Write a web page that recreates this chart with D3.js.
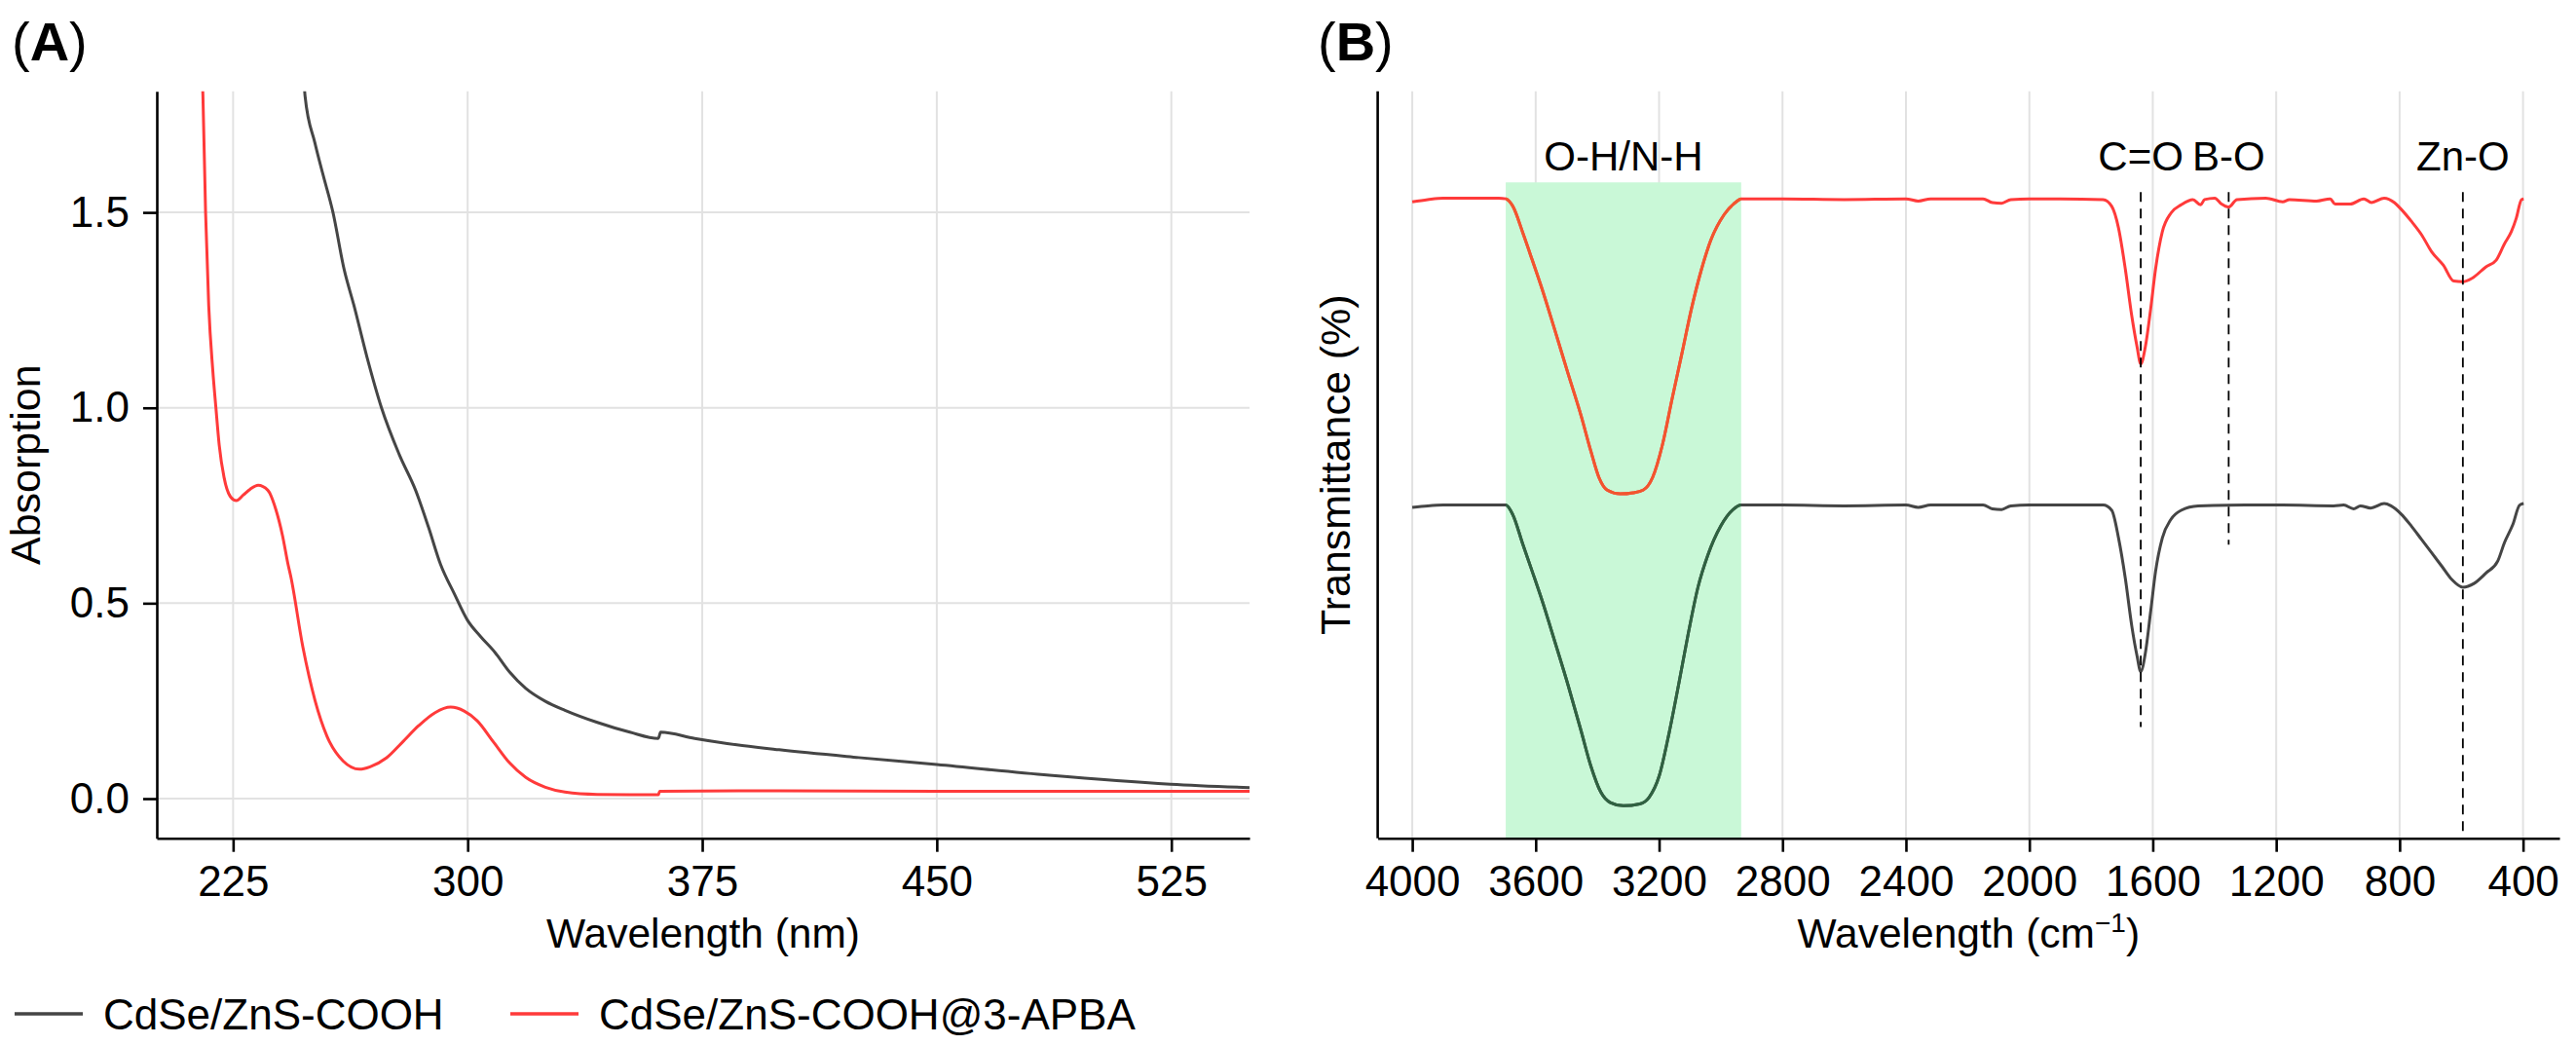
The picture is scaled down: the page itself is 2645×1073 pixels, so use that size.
<!DOCTYPE html>
<html>
<head>
<meta charset="utf-8">
<script src="https://cdn.jsdelivr.net/npm/d3@7"></script>
<style>
  html,body{margin:0;padding:0;background:#fff;}
  svg{display:block;}
  text{font-family:"Liberation Sans", Arial, Helvetica, sans-serif;}
</style>
</head>
<body>
<svg id="chart" width="2645" height="1073"></svg>
<script>
// ---------------- DATA ----------------
const seriesNames = ["CdSe/ZnS-COOH", "CdSe/ZnS-COOH@3-APBA"];
const seriesColors = ["#454545", "#FF3A3A"];
const seriesColorsInBand = ["#2F6241", "#F2552E"];

// Panel A: UV-vis absorption [wavelength nm, absorbance]
const uvXTicks = [225, 300, 375, 450, 525];
const uvYTicks = [0.0, 0.5, 1.0, 1.5];
const uvCOOH = [
  [247.5,1.86],[248.0,1.798],[251.15,1.678],[253.8,1.595],[256.9,1.501],[260.5,1.354],
  [263.6,1.263],[267.8,1.130],[272.45,1.0],[278.15,0.880],[283.35,0.789],[287.5,0.694],
  [291.3,0.600],[295.8,0.523],[299.9,0.457],[304.1,0.415],[308.75,0.374],[313.4,0.324],
  [318.6,0.282],[324.85,0.249],[331.1,0.226],[341.45,0.195],[351.85,0.170],[360.96,0.154],
  [361.7,0.170],[372.6,0.154],[383.0,0.141],[399.6,0.125],[425,0.105],[450,0.0872],
  [486,0.0598],[524.7,0.037],[550,0.028]
];
const uvAPBA = [
  [214.6,1.95],[215.35,1.798],[216.2,1.5],[217.2,1.262],[218.5,1.096],[219.5,1.0],
  [220.55,0.905],[222.1,0.822],[224.2,0.772],[226.05,0.7625],[228.3,0.777],[230.5,0.792],
  [233.0,0.8017],[236.1,0.789],[238.7,0.739],[240.8,0.673],[242.6,0.598],[243.4,0.570],
  [247.3,0.388],[251.2,0.251],[255.0,0.160],[260.2,0.096],[265.4,0.0753],[268.8,0.0815],
  [274.0,0.104],[279.2,0.145],[284.4,0.187],[289.6,0.220],[294.55,0.234],[298.9,0.224],
  [303.05,0.199],[308.25,0.145],[313.4,0.0914],[318.6,0.054],[324.85,0.029],[331.1,0.0167],
  [341.4,0.0107],[351.8,0.010],[361.0,0.010],[361.4,0.019],[400,0.020],[450,0.019],
  [500,0.019],[550,0.019]
];

// Panel B: FTIR transmittance [wavenumber cm-1, transmittance a.u.]
const ftirXTicks = [4000, 3600, 3200, 2800, 2400, 2000, 1600, 1200, 800, 400];
const ftirCOOH = [
  [4000,44.3],[3950,44.5],[3900,44.6],[3800,44.6],[3720,44.6],[3697,44.6],[3674,43.3],
  [3642,39.4],[3611,35.7],[3579,31.8],[3537,26.2],[3495,20.5],[3453,14.4],[3421,9.65],
  [3389,6.18],[3358,4.78],[3316,4.35],[3263,4.6],[3232,5.5],[3200,8.3],[3168,14.0],
  [3137,20.5],[3105,27.5],[3074,33.6],[3042,37.9],[3000,41.8],[2960,44.0],[2934,44.6],
  [2800,44.6],[2600,44.5],[2400,44.6],[2360,44.3],[2320,44.6],[2150,44.6],[2120,44.1],
  [2090,44.0],[2060,44.5],[2000,44.6],[1900,44.6],[1761,44.6],[1733,43.9],[1711,40.2],
  [1689,34.8],[1668,28.4],[1651,24.4],[1639,22.3],[1624,24.8],[1607,30.3],[1591,35.7],
  [1569,40.2],[1541,42.7],[1508,43.9],[1453,44.5],[1300,44.6],[1179,44.6],[1014,44.5],
  [981,44.6],[949,44.1],[927,44.5],[894,44.2],[850,44.8],[828,44.5],[795,43.4],[762,41.8],
  [729,40.0],[696,38.2],[663,36.4],[630,34.6],[595,33.6],[559,34.1],[520,35.5],[482,37.1],
  [460,39.6],[433,42.0],[411,44.6],[398,44.8]
];
const ftirAPBA = [
  [4000,85.2],[3950,85.5],[3900,85.7],[3800,85.7],[3720,85.7],[3697,85.6],[3674,84.6],
  [3642,81.1],[3611,77.4],[3579,73.5],[3537,67.9],[3495,62.2],[3453,56.6],[3421,51.8],
  [3395,48.3],[3368,46.6],[3326,46.1],[3284,46.25],[3252,46.6],[3221,48.3],[3189,52.7],
  [3158,58.8],[3126,64.9],[3095,70.9],[3063,76.1],[3032,80.1],[2989,83.5],[2950,85.2],
  [2934,85.6],[2800,85.6],[2600,85.5],[2400,85.6],[2360,85.3],[2320,85.6],[2150,85.6],
  [2120,85.1],[2090,85.0],[2060,85.5],[2000,85.6],[1900,85.6],[1761,85.5],[1733,84.6],
  [1711,81.7],[1689,76.2],[1668,69.9],[1651,65.8],[1639,63.5],[1624,65.8],[1607,70.8],
  [1591,76.2],[1569,81.2],[1541,83.7],[1508,84.8],[1470,85.5],[1445,84.8],[1432,85.5],
  [1399,85.7],[1377,84.9],[1354,84.5],[1327,85.5],[1234,85.7],[1179,85.2],[1157,85.5],
  [1069,85.3],[1025,85.6],[1009,84.9],[960,84.9],[916,85.6],[891,85.1],[850,85.7],
  [817,85.1],[795,84.2],[762,82.6],[729,80.8],[696,78.5],[658,76.7],[625,74.6],[595,74.5],
  [564,75.0],[520,76.5],[487,77.4],[460,79.6],[438,81.2],[422,83.0],[405,85.5],[398,85.6]
];
// O-H/N-H shaded band (wavenumber range) and its label
const bandRange = [3697, 2934];
const bandTop = 87.8;
const bandLabel = "O-H/N-H";
// peak markers: label, wavenumber, dashed line lower end (transmittance)
const peakLabels = ["C=O", "B-O", "Zn-O"];
const peakWavenumbers = [1639, 1354, 595];
const peakLineBottoms = [14.9, 39.3, 0];
const peakLineTop = 86.5;

// ---------------- DRAWING ----------------
const svg = d3.select("#chart");
svg.append("rect").attr("width", 2645).attr("height", 1073).attr("fill", "#fff");
const FONT = '"Liberation Sans", Arial, Helvetica, sans-serif';
const TOP = 93.7, BOTTOM = 860.7;
const gridColor = "#E2E2E2";
const LW = 3;

function styleAxis(g) {
  g.select(".domain").attr("stroke", "#000").attr("stroke-width", 2.6);
  g.selectAll(".tick line").attr("stroke", "#000").attr("stroke-width", 2.6);
  g.selectAll(".tick text").attr("fill", "#000").style("font-size", "44px").style("font-family", FONT);
}

// ===== Panel A =====
const xA = d3.scaleLinear().domain([200.6, 550]).range([161, 1283]);
const yA = d3.scaleLinear().domain([-0.1014, 1.81]).range([BOTTOM, TOP]);

const gA = svg.append("g");
gA.append("g").selectAll("line").data(uvXTicks).join("line")
  .attr("x1", d => xA(d)).attr("x2", d => xA(d)).attr("y1", TOP).attr("y2", BOTTOM)
  .attr("stroke", gridColor).attr("stroke-width", 2);
gA.append("g").selectAll("line").data(uvYTicks).join("line")
  .attr("x1", xA.range()[0]).attr("x2", xA.range()[1]).attr("y1", d => yA(d)).attr("y2", d => yA(d))
  .attr("stroke", gridColor).attr("stroke-width", 2);

svg.append("clipPath").attr("id", "clipA").append("rect")
  .attr("x", 161).attr("y", TOP).attr("width", 1283 - 161).attr("height", BOTTOM - TOP);
const lineA = d3.line().x(d => xA(d[0])).y(d => yA(d[1])).curve(d3.curveMonotoneX);
const gAl = gA.append("g").attr("clip-path", "url(#clipA)");
[uvCOOH, uvAPBA].forEach((s, i) => {
  gAl.append("path").datum(s).attr("d", lineA).attr("fill", "none")
    .attr("stroke", seriesColors[i]).attr("stroke-width", LW).attr("stroke-linejoin", "round");
});

gA.append("g").attr("transform", `translate(0,${BOTTOM})`)
  .call(d3.axisBottom(xA).tickValues(uvXTicks).tickFormat(d3.format("d")).tickSize(14).tickSizeOuter(0).tickPadding(14))
  .call(styleAxis);
gA.append("g").attr("transform", `translate(161,0)`)
  .call(d3.axisLeft(yA).tickValues(uvYTicks).tickFormat(d3.format(".1f")).tickSize(14).tickSizeOuter(0).tickPadding(14))
  .call(styleAxis);

gA.append("text").attr("x", (161 + 1283) / 2).attr("y", 973).attr("text-anchor", "middle")
  .style("font-size", "42.5px").text("Wavelength (nm)");
gA.append("text").attr("transform", `translate(41,${(TOP + BOTTOM) / 2}) rotate(-90)`)
  .attr("text-anchor", "middle").style("font-size", "43px").text("Absorption");
const tA = gA.append("text").attr("x", 12).attr("y", 62).style("font-size", "56px");
tA.append("tspan").text("(");
tA.append("tspan").attr("font-weight", "bold").text("A");
tA.append("tspan").text(")");

// ===== Panel B =====
const xB = d3.scaleLinear().domain([4112, 282]).range([1414.6, 2628]);
const yB = d3.scaleLinear().domain([0, 100]).range([BOTTOM, TOP]);
const gB = svg.append("g");
gB.append("g").selectAll("line").data(ftirXTicks).join("line")
  .attr("x1", d => xB(d)).attr("x2", d => xB(d)).attr("y1", TOP).attr("y2", BOTTOM)
  .attr("stroke", gridColor).attr("stroke-width", 2);

// shaded band (covers gridlines)
const bx0 = xB(bandRange[0]), bx1 = xB(bandRange[1]);
gB.append("rect")
  .attr("x", bx0).attr("width", bx1 - bx0)
  .attr("y", yB(bandTop)).attr("height", yB(0) - yB(bandTop))
  .attr("fill", "#C9F8D7");

svg.append("clipPath").attr("id", "clipB").append("rect")
  .attr("x", 1414.6).attr("y", TOP).attr("width", 2628 - 1414.6).attr("height", BOTTOM - TOP);
svg.append("clipPath").attr("id", "clipBand").append("rect")
  .attr("x", bx0).attr("y", yB(bandTop)).attr("width", bx1 - bx0).attr("height", yB(0) - yB(bandTop));
const lineB = d3.line().x(d => xB(d[0])).y(d => yB(d[1])).curve(d3.curveMonotoneX);
const gBl = gB.append("g").attr("clip-path", "url(#clipB)");
[ftirCOOH, ftirAPBA].forEach((s, i) => {
  gBl.append("path").datum(s).attr("d", lineB).attr("fill", "none")
    .attr("stroke", seriesColors[i]).attr("stroke-width", LW).attr("stroke-linejoin", "round");
});
// tinted portion of the lines inside the band
const gBb = gB.append("g").attr("clip-path", "url(#clipBand)");
[ftirCOOH, ftirAPBA].forEach((s, i) => {
  gBb.append("path").datum(s).attr("d", lineB).attr("fill", "none")
    .attr("stroke", seriesColorsInBand[i]).attr("stroke-width", LW).attr("stroke-linejoin", "round");
});

gB.append("text").attr("x", (bx0 + bx1) / 2).attr("y", 174.5)
  .attr("text-anchor", "middle").style("font-size", "42px").text(bandLabel);

peakWavenumbers.forEach((wn, i) => {
  gB.append("line").attr("x1", xB(wn)).attr("x2", xB(wn))
    .attr("y1", yB(peakLineTop)).attr("y2", yB(peakLineBottoms[i]))
    .attr("stroke", "#000").attr("stroke-width", 1.8).attr("stroke-dasharray", "10,7");
  gB.append("text").attr("x", xB(wn)).attr("y", 174.5).attr("text-anchor", "middle")
    .style("font-size", "42px").text(peakLabels[i]);
});

gB.append("g").attr("transform", `translate(0,${BOTTOM})`)
  .call(d3.axisBottom(xB).tickValues(ftirXTicks).tickFormat(d3.format("d")).tickSize(14).tickSizeOuter(0).tickPadding(14))
  .call(styleAxis);
gB.append("line").attr("x1", 1414.6).attr("x2", 1414.6).attr("y1", TOP).attr("y2", BOTTOM)
  .attr("stroke", "#000").attr("stroke-width", 2.6);

const xtB = gB.append("text").attr("x", (1414.6 + 2628) / 2).attr("y", 973).attr("text-anchor", "middle")
  .style("font-size", "42.5px");
xtB.append("tspan").text("Wavelength (cm");
xtB.append("tspan").attr("dy", -16).style("font-size", "28px").text("\u22121");
xtB.append("tspan").attr("dy", 16).text(")");
gB.append("text").attr("transform", `translate(1386,${(TOP + BOTTOM) / 2}) rotate(-90)`)
  .attr("text-anchor", "middle").style("font-size", "43px").text("Transmittance (%)");
const tB = gB.append("text").attr("x", 1353).attr("y", 62).style("font-size", "56px");
tB.append("tspan").text("(");
tB.append("tspan").attr("font-weight", "bold").text("B");
tB.append("tspan").text(")");

// ===== Legend =====
const legendX = [15, 524];
const gL = svg.append("g");
seriesNames.forEach((name, i) => {
  gL.append("line").attr("x1", legendX[i]).attr("x2", legendX[i] + 70).attr("y1", 1041).attr("y2", 1041)
    .attr("stroke", seriesColors[i]).attr("stroke-width", 3.6);
  gL.append("text").attr("x", legendX[i] + 91).attr("y", 1057).style("font-size", "44px").text(name);
});
</script>
</body>
</html>
